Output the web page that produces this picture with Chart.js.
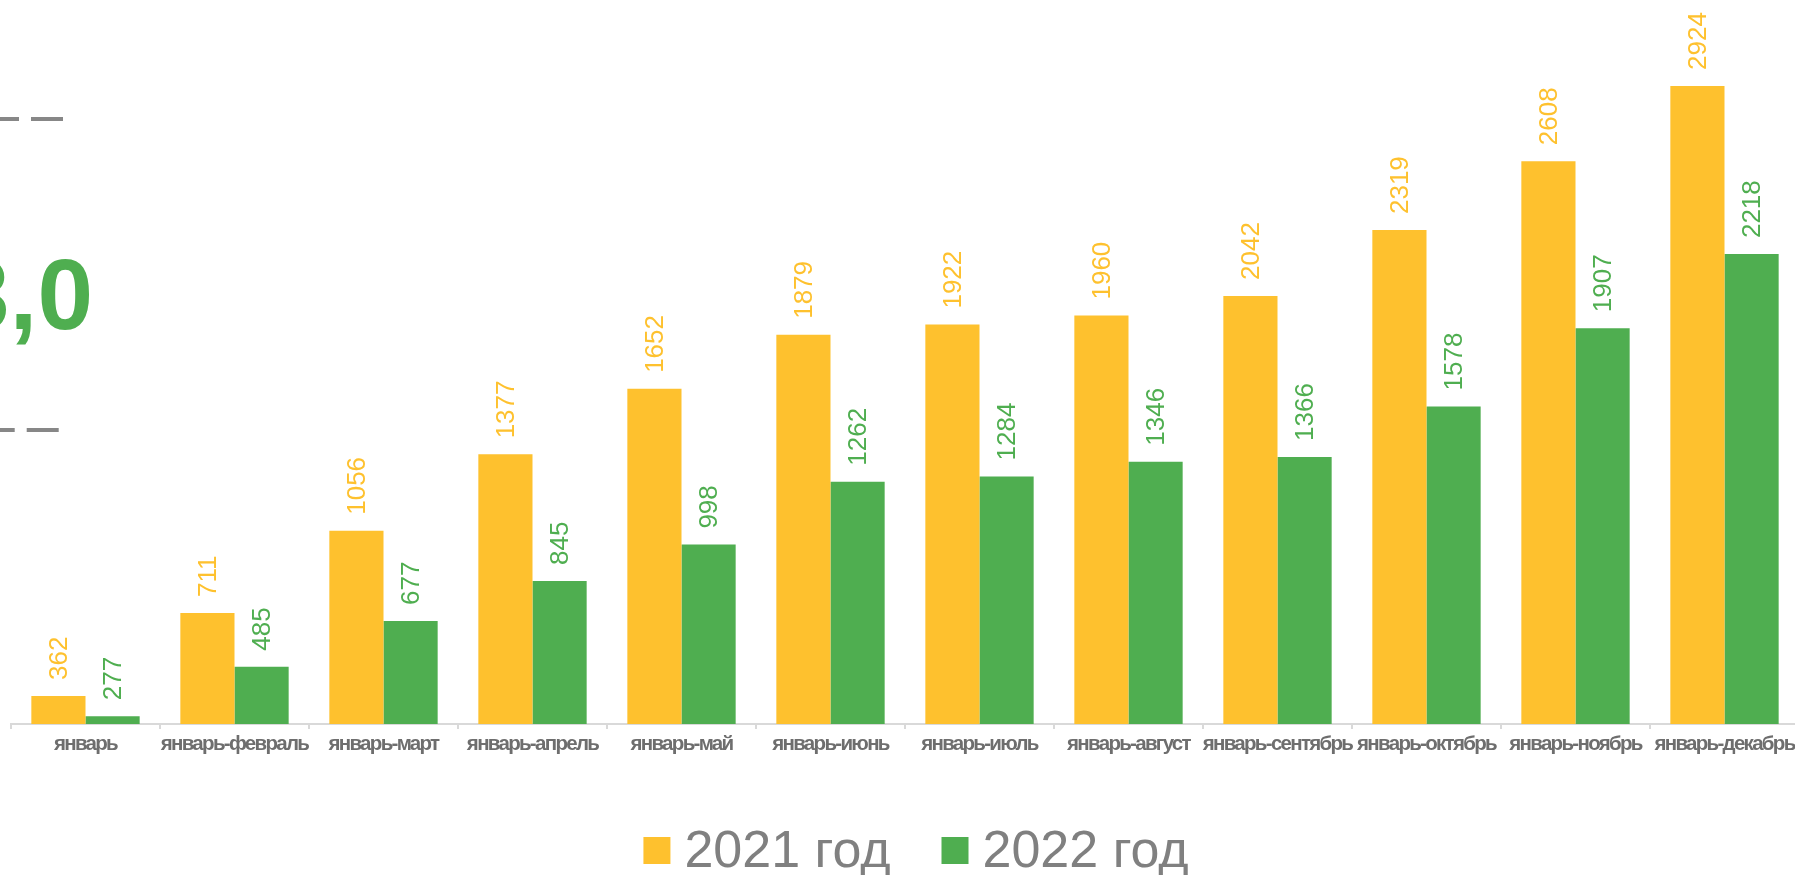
<!DOCTYPE html>
<html>
<head>
<meta charset="utf-8">
<script src="https://cdn.jsdelivr.net/npm/chart.js@4.4.1/dist/chart.umd.min.js"></script>
<style>
  html, body { margin: 0; padding: 0; background: #ffffff; overflow: hidden; }
  #wrap { position: relative; width: 1795px; height: 875px; overflow: hidden; }
  canvas { display: block; }
</style>
</head>
<body>
<div id="wrap"><canvas id="c" width="1800" height="875"></canvas></div>
<script>
const categories = ['январь', 'январь-февраль', 'январь-март', 'январь-апрель', 'январь-май', 'январь-июнь',
  'январь-июль', 'январь-август', 'январь-сентябрь', 'январь-октябрь', 'январь-ноябрь', 'январь-декабрь'];
const series2021 = [362, 711, 1056, 1377, 1652, 1879, 1922, 1960, 2042, 2319, 2608, 2924];
const series2022 = [277, 485, 677, 845, 998, 1262, 1284, 1346, 1366, 1578, 1907, 2218];
const seriesNames = ['2021 год', '2022 год'];
const sideValue = '3,0';

const YELLOW = '#FEC12E';
const GREEN = '#4FAE50';
const GREY_TEXT = '#6E6E6E';
const LEGEND_TEXT = '#808080';
const AXIS = '#D9D9D9';

const hasSpacing = 'letterSpacing' in CanvasRenderingContext2D.prototype;
const tickFontSize = hasSpacing ? 20.5 : 17.5;
const TICK_SPACING = '-1.7px';

const tickSpacing = {
  id: 'tickSpacing',
  beforeLayout(chart) { if (hasSpacing) chart.ctx.letterSpacing = TICK_SPACING; },
  afterLayout(chart) { if (hasSpacing) chart.ctx.letterSpacing = '0px'; },
  beforeDraw(chart) { if (hasSpacing) chart.ctx.letterSpacing = TICK_SPACING; },
  beforeDatasetsDraw(chart) { if (hasSpacing) chart.ctx.letterSpacing = '0px'; }
};

const barLabels = {
  id: 'barLabels',
  afterDatasetsDraw(chart) {
    const ctx = chart.ctx;
    chart.data.datasets.forEach((ds, i) => {
      const meta = chart.getDatasetMeta(i);
      meta.data.forEach((bar, j) => {
        ctx.save();
        ctx.translate(bar.x + 1, bar.y - 16);
        ctx.rotate(-Math.PI / 2);
        ctx.font = '26px "Liberation Sans", Arial, sans-serif';
        ctx.fillStyle = ds.backgroundColor;
        ctx.textAlign = 'left';
        ctx.textBaseline = 'middle';
        ctx.fillText(String(ds.data[j]), 0, 0);
        ctx.restore();
      });
    });
  }
};

const decorations = {
  id: 'decorations',
  afterDraw(chart) {
    const ctx = chart.ctx;
    ctx.save();
    if (hasSpacing) ctx.letterSpacing = '0px';
    // dashed grey lines on the left
    ctx.strokeStyle = '#878787';
    ctx.lineWidth = 4;
    ctx.lineCap = 'butt';
    ctx.setLineDash([32, 12]);
    ctx.beginPath();
    ctx.moveTo(63, 119); ctx.lineTo(-200, 119);
    ctx.stroke();
    ctx.beginPath();
    ctx.moveTo(58.7, 430); ctx.lineTo(-200, 430);
    ctx.stroke();
    ctx.setLineDash([]);
    // big green value, partly cut off
    ctx.font = 'bold 100px "Liberation Sans", Arial, sans-serif';
    ctx.fillStyle = GREEN;
    ctx.textAlign = 'right';
    ctx.textBaseline = 'alphabetic';
    ctx.fillText(sideValue, 93, 329);

    // legend
    ctx.font = '52px "Liberation Sans", Arial, sans-serif';
    ctx.textBaseline = 'alphabetic';
    ctx.textAlign = 'left';
    const box = 27, gap = 14, itemGap = 51;
    const items = chart.data.datasets.map(ds => ({ text: ds.label, color: ds.backgroundColor, w: ctx.measureText(ds.label).width }));
    let total = 0;
    items.forEach((it, k) => { total += box + gap + it.w + (k ? itemGap : 0); });
    let x = 916 - total / 2;
    items.forEach((it, k) => {
      if (k) x += itemGap;
      ctx.fillStyle = it.color;
      ctx.fillRect(x, 837, box, box);
      ctx.fillStyle = LEGEND_TEXT;
      ctx.fillText(it.text, x + box + gap, 867);
      x += box + gap + it.w;
    });
    ctx.restore();
  }
};

new Chart(document.getElementById('c'), {
  type: 'bar',
  data: {
    labels: categories,
    datasets: [
      { label: seriesNames[0], data: series2021, backgroundColor: YELLOW, borderWidth: 0 },
      { label: seriesNames[1], data: series2022, backgroundColor: GREEN, borderWidth: 0 }
    ]
  },
  options: {
    responsive: false,
    animation: false,
    devicePixelRatio: 1,
    layout: { autoPadding: false, padding: { left: 11, right: 1, top: 0, bottom: 115.5 } },
    datasets: { bar: { categoryPercentage: 0.727, barPercentage: 1.0 } },
    plugins: {
      legend: { display: false },
      tooltip: { enabled: false },
      title: { display: false }
    },
    scales: {
      x: {
        offset: true,
        grid: { display: true, drawOnChartArea: false, drawTicks: true, tickLength: 5, color: AXIS, lineWidth: 2, offset: true },
        border: { display: true, color: AXIS, width: 2 },
        ticks: {
          autoSkip: false, maxRotation: 0, minRotation: 0, padding: 3,
          color: GREY_TEXT,
          font: { family: '"Liberation Sans", Arial, sans-serif', size: tickFontSize, weight: 'bold' }
        }
      },
      y: {
        display: false,
        min: 245,
        max: 3285
      }
    }
  },
  plugins: [tickSpacing, barLabels, decorations]
});
</script>
</body>
</html>
